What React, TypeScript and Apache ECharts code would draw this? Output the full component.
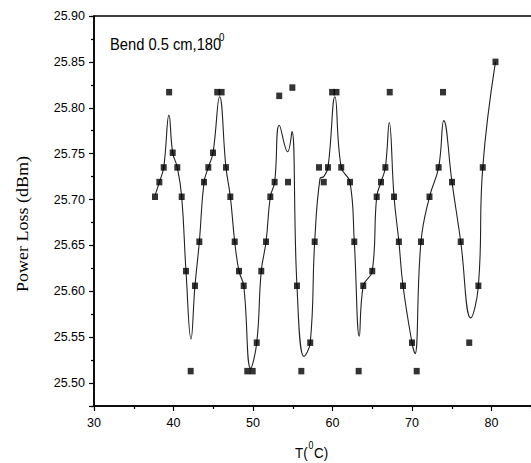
import React, { useEffect, useRef } from "react";
import * as echarts from "echarts";

// Measured points: temperature (°C) and power loss (dBm)
const temperatures = [
  37.67, 38.22, 38.77, 39.45, 39.9, 40.48, 41.03, 41.57, 42.16, 42.7,
  43.25, 43.84, 44.38, 44.97, 45.5, 46.05, 46.6, 47.15, 47.7, 48.24,
  48.83, 49.28, 49.96, 50.47, 51.04, 51.64, 52.18, 52.72, 53.3, 54.4,
  54.95, 55.53, 56.08, 57.2, 57.76, 58.3, 58.9, 59.43, 59.95, 60.5,
  61.1, 62.2, 62.74, 63.29, 63.87, 65.0, 65.56, 66.1, 66.65, 67.2,
  67.74, 68.35, 68.87, 70.0, 70.59, 71.13, 72.2, 73.35, 73.9, 75.03,
  76.13, 77.2, 78.35, 78.9, 80.5,
];
const powerLoss = [
  25.703, 25.719, 25.735, 25.817, 25.751, 25.735, 25.703, 25.622, 25.513, 25.606,
  25.654, 25.719, 25.735, 25.751, 25.817, 25.817, 25.735, 25.703, 25.654, 25.622,
  25.606, 25.513, 25.513, 25.544, 25.622, 25.654, 25.703, 25.719, 25.813, 25.719,
  25.822, 25.606, 25.513, 25.544, 25.654, 25.735, 25.719, 25.735, 25.817, 25.817,
  25.735, 25.719, 25.654, 25.513, 25.606, 25.622, 25.703, 25.719, 25.735, 25.817,
  25.703, 25.654, 25.606, 25.544, 25.513, 25.654, 25.703, 25.735, 25.817, 25.719,
  25.654, 25.544, 25.606, 25.735, 25.85,
];

// Smoothed curve
const curveT = [
  37.7, 38.22, 38.77, 39.43, 39.9, 40.48, 41.03, 41.57, 42.2, 42.7,
  43.25, 43.84, 44.38, 44.97, 45.8, 46.6, 47.15, 47.7, 48.24, 48.83,
  49.7, 50.47, 51.04, 51.64, 52.18, 52.72, 53.31, 54.36, 54.9, 55.53,
  56.42, 57.2, 57.76, 58.43, 58.9, 59.43, 60.3, 61.1, 62.2, 62.74,
  63.37, 63.87, 65.0, 65.56, 66.1, 66.65, 67.14, 67.74, 68.35, 68.87,
  70.0, 70.38, 71.13, 72.2, 73.35, 74.0, 75.03, 76.13, 77.38, 78.35,
  78.9, 80.5,
];
const curveLoss = [
  25.705, 25.719, 25.735, 25.792, 25.751, 25.735, 25.703, 25.622, 25.548, 25.606,
  25.654, 25.719, 25.735, 25.751, 25.812, 25.735, 25.703, 25.654, 25.622, 25.606,
  25.516, 25.544, 25.622, 25.654, 25.703, 25.719, 25.781, 25.752, 25.774, 25.606,
  25.529, 25.544, 25.654, 25.723, 25.725, 25.735, 25.812, 25.735, 25.719, 25.654,
  25.551, 25.606, 25.622, 25.703, 25.719, 25.735, 25.784, 25.703, 25.654, 25.606,
  25.544, 25.532, 25.654, 25.703, 25.735, 25.786, 25.719, 25.654, 25.571, 25.606,
  25.735, 25.85,
];

const xTickLabels = ["30", "40", "50", "60", "70", "80"];
const yTickLabels = ["25.50", "25.55", "25.60", "25.65", "25.70", "25.75", "25.80", "25.85", "25.90"];

const SANS = "'Liberation Sans', Arial, sans-serif";
const SERIF = "'Liberation Serif', 'Times New Roman', serif";

export default function App() {
  const ref = useRef<HTMLDivElement>(null);

  useEffect(() => {
    if (!ref.current) return;
    const chart = echarts.init(ref.current, undefined, { renderer: "svg" });
    const axisLine = { show: true, lineStyle: { color: "#000", width: 1.5 } };
    chart.setOption({
      animation: false,
      backgroundColor: "#fff",
      grid: {
        left: 94,
        top: 16,
        width: 477,
        height: 390,
        show: true,
        borderColor: "#000",
        borderWidth: 1.5,
        backgroundColor: "transparent",
      },
      xAxis: {
        type: "value",
        min: 30,
        max: 90,
        interval: 10,
        axisLine,
        axisTick: { show: true, inside: false, length: 5, lineStyle: { color: "#000", width: 1.2 } },
        minorTick: { show: true, splitNumber: 2, length: 3, lineStyle: { color: "#000", width: 1.2 } },
        splitLine: { show: false },
        axisLabel: {
          color: "#000",
          fontSize: 12.5,
          fontFamily: SANS,
          margin: 10,
          formatter: (v: number) => {
            const s = String(Math.round(v));
            return xTickLabels.includes(s) ? s : "";
          },
        },
      },
      yAxis: [
        {
          type: "value",
          min: 25.475,
          max: 25.9,
          splitNumber: 8,
          minInterval: 0.05,
          maxInterval: 0.05,
          axisLine,
          axisTick: { show: true, inside: false, length: 5, lineStyle: { color: "#000", width: 1.2 } },
          splitLine: { show: false },
          axisLabel: {
            color: "#000",
            fontSize: 12.5,
            fontFamily: SANS,
            margin: 9,
            formatter: (v: number) => {
              const s = v.toFixed(2);
              return v > 25.49 && yTickLabels.includes(s) ? s : "";
            },
          },
        },
        {
          type: "value",
          min: 25.475,
          max: 25.9,
          interval: 0.05,
          position: "left",
          axisLine: { show: false },
          axisTick: { show: true, inside: false, length: 3, lineStyle: { color: "#000", width: 1.2 } },
          axisLabel: { show: false },
          splitLine: { show: false },
        },
      ],
      graphic: [
        {
          type: "text",
          x: 110,
          y: 44.2,
          scaleX: 0.92,
          style: {
            text: "Bend 0.5 cm,180",
            font: `16px ${SANS}`,
            fill: "#000",
            textAlign: "left",
            textVerticalAlign: "middle",
          },
        },
        {
          type: "text",
          x: 219,
          y: 37.5,
          scaleX: 0.89,
          style: {
            text: "0",
            font: `11px ${SANS}`,
            fill: "#000",
            textAlign: "left",
            textVerticalAlign: "middle",
          },
        },
        {
          type: "text",
          x: 295,
          y: 452.5,
          scaleX: 0.89,
          style: { text: "T(", font: `15px ${SANS}`, fill: "#000", textAlign: "left", textVerticalAlign: "middle" },
        },
        {
          type: "text",
          x: 308.5,
          y: 445.5,
          scaleX: 0.89,
          style: { text: "0", font: `10px ${SANS}`, fill: "#000", textAlign: "left", textVerticalAlign: "middle" },
        },
        {
          type: "text",
          x: 314,
          y: 452.5,
          scaleX: 0.89,
          style: { text: "C)", font: `15px ${SANS}`, fill: "#000", textAlign: "left", textVerticalAlign: "middle" },
        },
        {
          type: "text",
          x: 22.5,
          y: 224,
          rotation: Math.PI / 2,
          scaleY: 0.89,
          style: {
            text: "Power Loss (dBm)",
            font: `18px ${SERIF}`,
            fill: "#000",
            textAlign: "center",
            textVerticalAlign: "middle",
          },
        },
      ],
      series: [
        {
          type: "line",
          data: curveT.map((t, i) => [t, curveLoss[i]]),
          smooth: 0.45,
          showSymbol: false,
          symbol: "none",
          lineStyle: { color: "#222", width: 1.1 },
          z: 2,
        },
        {
          type: "scatter",
          data: temperatures.map((t, i) => [t, powerLoss[i]]),
          symbol: "rect",
          symbolSize: [6, 6.5],
          itemStyle: { color: "#000" },
          z: 3,
        },
      ],
    });
    return () => chart.dispose();
  }, []);

  return (
    <div style={{ position: "absolute", left: 0, top: 0, width: 531, height: 463, overflow: "hidden", background: "#fff" }}>
      <div ref={ref} style={{ width: 600, height: 463 }} />
    </div>
  );
}
